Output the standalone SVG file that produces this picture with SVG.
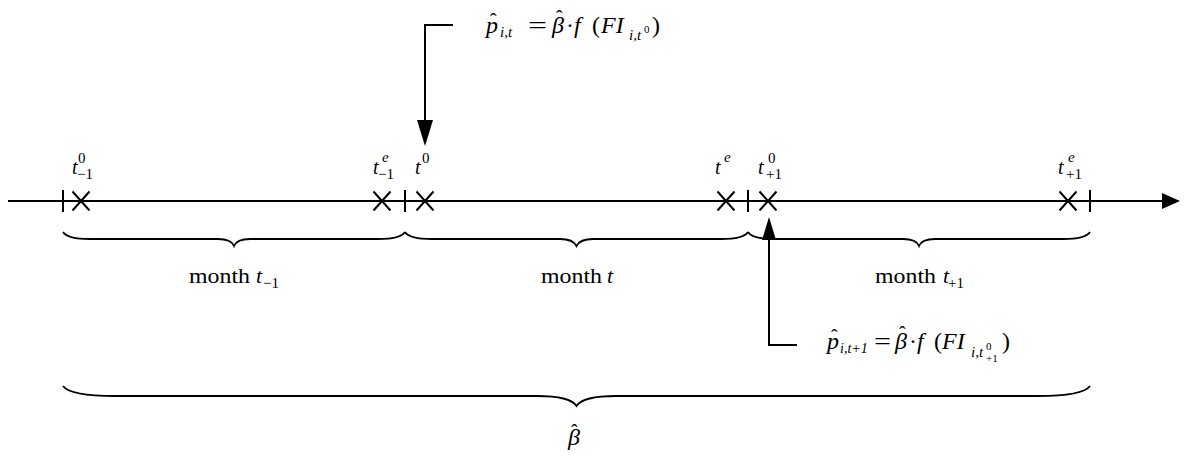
<svg xmlns="http://www.w3.org/2000/svg" width="1186" height="456" viewBox="0 0 1186 456">
<style>
.ln{stroke:#000;stroke-width:2;fill:none}
.br{stroke:#000;stroke-width:1.8;fill:none}
.ah{fill:#000;stroke:none}
text{font-family:"Liberation Serif","Times New Roman",serif;fill:#000}
.it{font-style:italic}
.t{font-size:20px;font-style:italic}
.sp{font-size:15px}
.m{font-size:22px}
.f{font-size:24px}
.s1{font-size:15px;font-style:italic}
.s2{font-size:11px}
.hat{font-size:20px}
</style>
<rect width="1186" height="456" fill="#fff"/>
<g id="axis">
<line class="ln" x1="8" y1="201" x2="1164" y2="201"/>
<polygon class="ah" points="1162,193 1180,201 1162,209"/>
<g id="ticks">
<line class="ln" x1="63" y1="190" x2="63" y2="212"/>
<line class="ln" x1="405" y1="190" x2="405" y2="212"/>
<line class="ln" x1="748" y1="190" x2="748" y2="212"/>
<line class="ln" x1="1090" y1="190" x2="1090" y2="212"/>
</g>
</g>
<g id="cross-t-1-0"><path class="ln" d="M72.5,191.5L89.5,210.5M89.5,191.5L72.5,210.5"/>
<text x="72" y="174" class="t">t</text><text x="78" y="163" class="sp">0</text><text x="77" y="179" class="sp">−1</text></g>
<g id="cross-t-1-e"><path class="ln" d="M373.5,191.5L390.5,210.5M390.5,191.5L373.5,210.5"/>
<text x="373" y="174" class="t">t</text><text x="382" y="162" class="sp it">e</text><text x="378" y="179" class="sp">−1</text></g>
<g id="cross-t-0"><path class="ln" d="M416.5,191.5L433.5,210.5M433.5,191.5L416.5,210.5"/>
<text x="415" y="174" class="t">t</text><text x="422" y="163" class="sp">0</text></g>
<g id="cross-t-e"><path class="ln" d="M717.5,191.5L734.5,210.5M734.5,191.5L717.5,210.5"/>
<text x="715" y="174" class="t">t</text><text x="724" y="162" class="sp it">e</text></g>
<g id="cross-t+1-0"><path class="ln" d="M759.5,191.5L776.5,210.5M776.5,191.5L759.5,210.5"/>
<text x="758" y="174" class="t">t</text><text x="768" y="163" class="sp">0</text><text x="766" y="179" class="sp">+1</text></g>
<g id="cross-t+1-e"><path class="ln" d="M1059.5,191.5L1076.5,210.5M1076.5,191.5L1059.5,210.5"/>
<text x="1058" y="174" class="t">t</text><text x="1068" y="162" class="sp it">e</text><text x="1066" y="179" class="sp">+1</text></g>
<g id="brace-month-t-1">
<path class="br" d="M63,232 C66,237 74,239 90,239 L218,239 C227,239 232,241 234,246 C236,241 241,239 250,239 L378,239 C394,239 402,237 405,232"/>
<text x="189" y="283" class="m" textLength="61" lengthAdjust="spacingAndGlyphs">month</text><text x="256" y="283" class="m it">t</text><text x="263" y="288" class="sp">−1</text>
</g>
<g id="brace-month-t">
<path class="br" d="M405,232 C408,237 416,239 432,239 L560,239 C569,239 574,241 576.5,246 C579,241 584,239 593,239 L721,239 C737,239 745,237 748,232"/>
<text x="541" y="283" class="m" textLength="61" lengthAdjust="spacingAndGlyphs">month</text><text x="607" y="283" class="m it">t</text>
</g>
<g id="brace-month-t+1">
<path class="br" d="M748,232 C751,237 759,239 775,239 L903,239 C912,239 917,241 919,246 C921,241 926,239 935,239 L1063,239 C1079,239 1087,237 1090,232"/>
<text x="875" y="283" class="m" textLength="61" lengthAdjust="spacingAndGlyphs">month</text><text x="943" y="283" class="m it">t</text><text x="948" y="288" class="sp">+1</text>
</g>
<g id="brace-beta">
<path class="br" d="M63,386 C68,393 85,396 115,396 L537,396 C560,396 572,399 576.5,406 C581,399 593,396 616,396 L1038,396 C1068,396 1085,393 1090,386"/>
<text x="568" y="445" style="font-size:24px" class="it">β</text><text x="571" y="439" class="hat">ˆ</text>
</g>
<g id="formula-top">
<text x="486" y="33" class="f it">p</text><text x="490" y="28" class="hat">ˆ</text>
<text x="500" y="37" class="s1">i,t</text>
<text x="528" y="33" class="f" textLength="19" lengthAdjust="spacingAndGlyphs">=</text>
<text x="552" y="33" class="f it">β</text><text x="556" y="25" class="hat">ˆ</text>
<text x="566" y="33" class="f">·</text>
<text x="574" y="33" class="f it">f</text>
<text x="592" y="33" class="f">(</text>
<text x="601" y="33" class="f it">FI</text>
<text x="629" y="40" class="s1">i,t</text>
<text x="644" y="33" class="s2">0</text>
<text x="652" y="33" class="f">)</text>
</g>
<g id="formula-bottom">
<text x="827" y="349" class="f it">p</text><text x="831" y="344" class="hat">ˆ</text>
<text x="840" y="353" class="s1" style="font-size:14px">i,t+1</text>
<text x="874" y="349" class="f" textLength="17" lengthAdjust="spacingAndGlyphs">=</text>
<text x="895" y="349" class="f it">β</text><text x="899" y="341" class="hat">ˆ</text>
<text x="909" y="349" class="f">·</text>
<text x="917" y="349" class="f it">f</text>
<text x="934" y="349" class="f">(</text>
<text x="942" y="349" class="f it">FI</text>
<text x="971" y="357" class="s1">i,t</text>
<text x="986" y="350" class="s2">0</text>
<text x="986" y="362" class="s2">+1</text>
<text x="1002" y="349" class="f">)</text>
</g>
<g id="connectors">
<polyline class="ln" points="453,25 425,25 425,122"/>
<polygon class="ah" points="417,120 433,120 425,146"/>
<polyline class="ln" points="769,238 769,345 797,345"/>
<polygon class="ah" points="762,240 776,240 769,217"/>
</g>
</svg>
